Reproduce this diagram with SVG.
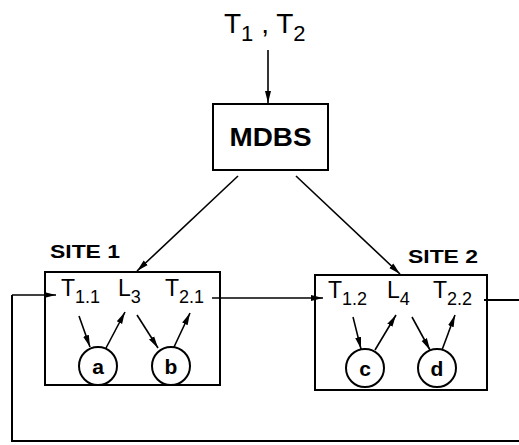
<svg xmlns="http://www.w3.org/2000/svg" width="519" height="445" viewBox="0 0 519 445">
<style>
.t{font-family:"Liberation Sans",Arial,sans-serif;fill:#000}
.b{font-weight:bold}
.box{fill:none;stroke:#000;stroke-width:2}
.ln{fill:none;stroke:#000;stroke-width:2}
.ar{fill:none;stroke:#000;stroke-width:1.6;marker-end:url(#ah)}
</style>
<defs>
<marker id="ah" viewBox="0 0 12 10" refX="12" refY="5" markerWidth="12" markerHeight="10" markerUnits="userSpaceOnUse" orient="auto">
<path d="M0,2 L12,5 L0,8 z" fill="#000"/>
</marker>
</defs>
<rect width="519" height="445" fill="#fff"/>
<g id="input">
<text class="t" x="224" y="33" font-size="28">T<tspan font-size="22" dy="8">1</tspan><tspan dy="-8"> , T</tspan><tspan font-size="22" dy="8">2</tspan></text>
</g>
<g id="mdbs">
<rect class="box" x="213" y="104" width="115" height="66"/>
<text class="t b" x="270.5" y="146" font-size="25" text-anchor="middle" textLength="82" lengthAdjust="spacingAndGlyphs">MDBS</text>
</g>
<g id="site1">
<text class="t b" x="50" y="258" font-size="18" textLength="70" lengthAdjust="spacingAndGlyphs">SITE 1</text>
<rect class="box" x="45" y="272" width="175" height="113"/>
<text class="t" x="61" y="296" font-size="23">T<tspan font-size="18" dy="7">1.1</tspan></text>
<text class="t" x="118" y="296" font-size="23">L<tspan font-size="18" dy="7">3</tspan></text>
<text class="t" x="165" y="296" font-size="23">T<tspan font-size="18" dy="7">2.1</tspan></text>
</g>
<g id="site2">
<text class="t b" x="408" y="263" font-size="18" textLength="70" lengthAdjust="spacingAndGlyphs">SITE 2</text>
<rect class="box" x="315" y="275" width="172" height="115"/>
<text class="t" x="328" y="298" font-size="23">T<tspan font-size="18" dy="7">1.2</tspan></text>
<text class="t" x="387" y="298" font-size="23">L<tspan font-size="18" dy="7">4</tspan></text>
<text class="t" x="433" y="298" font-size="23">T<tspan font-size="18" dy="7">2.2</tspan></text>
</g>
<g id="a"><circle class="box" cx="98" cy="366" r="19"/><text class="t b" x="98" y="374" font-size="21" text-anchor="middle">a</text></g>
<g id="b"><circle class="box" cx="171" cy="366" r="19"/><text class="t b" x="171" y="374" font-size="21" text-anchor="middle">b</text></g>
<g id="c"><circle class="box" cx="365" cy="368" r="19"/><text class="t b" x="365" y="376" font-size="21" text-anchor="middle">c</text></g>
<g id="d"><circle class="box" cx="437" cy="368" r="19"/><text class="t b" x="437" y="376" font-size="21" text-anchor="middle">d</text></g>
<g id="connectors">
<line class="ar" x1="268" y1="50" x2="268" y2="103"/>
<line class="ar" x1="238" y1="176" x2="137" y2="271"/>
<line class="ar" x1="296" y1="176" x2="400" y2="274"/>
<line class="ar" x1="212" y1="298" x2="323" y2="298"/>
<line class="ln" x1="484" y1="300" x2="519" y2="300"/>
<polyline class="ln" points="519,441 12,441 12,295"/>
<line class="ar" x1="12" y1="295" x2="56" y2="295"/>
<line class="ar" x1="79" y1="316" x2="90" y2="347"/>
<line class="ar" x1="106" y1="348" x2="125" y2="312"/>
<line class="ar" x1="137" y1="315" x2="158" y2="348"/>
<line class="ar" x1="174" y1="347" x2="190" y2="313"/>
<line class="ar" x1="353" y1="317" x2="361" y2="349"/>
<line class="ar" x1="375" y1="350" x2="396" y2="315"/>
<line class="ar" x1="412" y1="317" x2="430" y2="350"/>
<line class="ar" x1="442" y1="350" x2="455" y2="315"/>
</g>
</svg>
